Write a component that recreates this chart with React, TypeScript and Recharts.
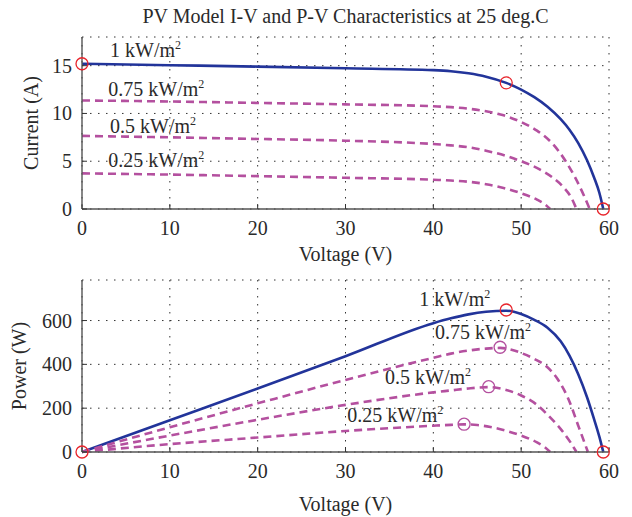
import React from "react";
import { ComposedChart, Line, Scatter, XAxis, YAxis, CartesianGrid } from "recharts";

// ── Data ─────────────────────────────────────────────────────────────────

const voltTicks = [0, 10, 20, 30, 40, 50, 60];
const currentTicks = [0, 5, 10, 15];
const powerTicks = [0, 200, 400, 600];

// I-V curves, one per irradiance level
const iv100 = [
  { v: 0, i: 15.2 }, { v: 10, i: 15.05 }, { v: 20, i: 14.9 }, { v: 30, i: 14.73 }, { v: 40, i: 14.53 },
  { v: 42, i: 14.42 }, { v: 44, i: 14.2 }, { v: 46, i: 13.85 }, { v: 48.3, i: 13.2 }, { v: 50, i: 12.5 },
  { v: 51.5, i: 11.7 }, { v: 53, i: 10.7 }, { v: 54.5, i: 9.4 }, { v: 55.5, i: 8.3 }, { v: 56.5, i: 6.9 },
  { v: 57.5, i: 5.1 }, { v: 58.3, i: 3.3 }, { v: 58.9, i: 1.7 }, { v: 59.35, i: 0 },
];
const iv75 = [
  { v: 0, i: 11.36 }, { v: 10, i: 11.25 }, { v: 20, i: 11.1 }, { v: 30, i: 10.95 }, { v: 40, i: 10.75 },
  { v: 42, i: 10.66 }, { v: 44, i: 10.5 }, { v: 46, i: 10.22 }, { v: 48, i: 9.8 }, { v: 50, i: 9.1 },
  { v: 51.8, i: 8.2 }, { v: 53.5, i: 6.9 }, { v: 55, i: 5.1 }, { v: 56.2, i: 3.2 }, { v: 57.1, i: 1.5 },
  { v: 57.8, i: 0 },
];
const iv50 = [
  { v: 0, i: 7.65 }, { v: 10, i: 7.5 }, { v: 20, i: 7.33 }, { v: 30, i: 7.15 }, { v: 40, i: 6.8 },
  { v: 42, i: 6.66 }, { v: 44.2, i: 6.43 }, { v: 46, i: 6.1 }, { v: 48.3, i: 5.55 }, { v: 50, i: 5.0 },
  { v: 52, i: 4.2 }, { v: 53.5, i: 3.35 }, { v: 54.8, i: 2.3 }, { v: 55.7, i: 1.2 }, { v: 56.3, i: 0 },
];
const iv25 = [
  { v: 0, i: 3.73 }, { v: 10, i: 3.6 }, { v: 20, i: 3.44 }, { v: 30, i: 3.27 }, { v: 40, i: 3.06 },
  { v: 42, i: 2.98 }, { v: 44, i: 2.85 }, { v: 46, i: 2.6 }, { v: 48, i: 2.2 }, { v: 50, i: 1.65 },
  { v: 51.8, i: 0.98 }, { v: 52.7, i: 0.5 }, { v: 53.3, i: 0 },
];

// P-V curves
const pv100 = [
  { v: 0, p: 0 }, { v: 10, p: 145 }, { v: 20, p: 290 }, { v: 30, p: 437 }, { v: 40, p: 588 },
  { v: 42, p: 610 }, { v: 44, p: 628 }, { v: 46, p: 640 }, { v: 48.3, p: 645 }, { v: 50, p: 630 },
  { v: 51.5, p: 603 }, { v: 53, p: 567 }, { v: 54.5, p: 505 }, { v: 55.5, p: 440 }, { v: 56.5, p: 355 },
  { v: 57.5, p: 250 }, { v: 58.3, p: 150 }, { v: 58.9, p: 70 }, { v: 59.35, p: 0 },
];
const pv75 = [
  { v: 0, p: 0 }, { v: 10, p: 113 }, { v: 20, p: 222 }, { v: 30, p: 329 }, { v: 40, p: 430 },
  { v: 42, p: 449 }, { v: 44, p: 463 }, { v: 46, p: 472 }, { v: 47.6, p: 475 }, { v: 49, p: 466 },
  { v: 50, p: 452 }, { v: 51.5, p: 425 }, { v: 52.9, p: 390 }, { v: 54.2, p: 330 }, { v: 55.4, p: 240 },
  { v: 56.5, p: 120 }, { v: 57.6, p: 0 },
];
const pv50 = [
  { v: 0, p: 0 }, { v: 10, p: 75 }, { v: 20, p: 147 }, { v: 30, p: 215 }, { v: 40, p: 272 },
  { v: 42, p: 281 }, { v: 44, p: 290 }, { v: 46.3, p: 296 }, { v: 48.3, p: 283 }, { v: 50, p: 258 },
  { v: 51.8, p: 215 }, { v: 53.3, p: 158 }, { v: 54.6, p: 100 }, { v: 55.6, p: 45 }, { v: 56.3, p: 0 },
];
const pv25 = [
  { v: 0, p: 0 }, { v: 10, p: 36 }, { v: 20, p: 66 }, { v: 30, p: 96 }, { v: 40, p: 120 },
  { v: 42, p: 124 }, { v: 43.5, p: 126 }, { v: 45, p: 123 }, { v: 46.5, p: 114 }, { v: 48.35, p: 96 },
  { v: 50, p: 75 }, { v: 51.8, p: 44 }, { v: 52.7, p: 22 }, { v: 53.3, p: 0 },
];

// circle markers (Isc, MPP, Voc)
const ivRedMarks = [{ v: 0, i: 15.2 }, { v: 48.3, i: 13.2 }, { v: 59.35, i: 0 }];
const pvRedMarks = [{ v: 0, p: 0 }, { v: 48.3, p: 648 }, { v: 59.35, p: 0 }];
const pvMppMarks = [{ v: 47.6, p: 478 }, { v: 46.3, p: 298 }, { v: 43.5, p: 127 }];

// irradiance annotations (text starts at v, baseline at y value)
const ivNotes = [
  { v: 3.2, i: 15.9, text: "1" },
  { v: 3.0, i: 11.8, text: "0.75" },
  { v: 3.2, i: 7.95, text: "0.5" },
  { v: 3.0, i: 4.4, text: "0.25" },
];
const pvNotes = [
  { v: 38.4, p: 666, text: "1" },
  { v: 40.2, p: 515, text: "0.75" },
  { v: 34.5, p: 310, text: "0.5" },
  { v: 30.2, p: 136, text: "0.25" },
];

// ── Style ───────────────────────────────────────────────────────────────

const SERIF = "Liberation Serif";
const FS = 20;
const BLUE = "#22349a";
const MAGENTA = "#b4509f";
const RED = "#e8242b";
const FRAME = "#555";
const INK = "#2a2a2a";

const ring = (color: string) => (p: any) =>
  <circle cx={p.cx} cy={p.cy} r={6} fill="none" stroke={color} strokeWidth={1.3} />;

const Note = (p: any) => (
  <text x={p.cx} y={p.cy} fill={INK} fontSize={FS} fontFamily={SERIF}>
    {p.payload.text} kW/m<tspan dy={-8} fontSize={12}>2</tspan>
  </text>
);

const XTick = (p: any) => (
  <text x={p.x} y={p.y} dy="0.71em" textAnchor="middle" fill={INK} fontSize={FS} fontFamily={SERIF}>
    {p.payload.value}
  </text>
);
const YTick = (p: any) => (
  <text x={p.x} y={p.y} dy="0.35em" textAnchor="end" fill={INK} fontSize={FS} fontFamily={SERIF}>
    {p.payload.value}
  </text>
);

// axis titles, placed from the axis viewBox
const XTitle = (offset: number) => (p: any) => {
  const vb = p.viewBox;
  return (
    <text x={vb.x + vb.width / 2} y={vb.y + vb.height - offset} textAnchor="middle"
      fill={INK} fontSize={FS} fontFamily={SERIF}>Voltage (V)</text>
  );
};
const YTitle = (text: string, offset: number) => (p: any) => {
  const vb = p.viewBox;
  const x = vb.x + offset;
  const y = vb.y + vb.height / 2;
  return (
    <text x={x} y={y} dy="0.35em" textAnchor="middle" transform={`rotate(-90 ${x} ${y})`}
      fill={INK} fontSize={FS} fontFamily={SERIF}>{text}</text>
  );
};

function Panel(props: {
  height: number; top: number; yKey: string; yDomain: number[]; yTicks: number[];
  yLabel: string; yLabelX: number; bottomH: number; xLabelOffset: number;
  curves: { data: any[]; solid: boolean }[]; marks: { data: any[]; color: string }[]; notes: any[];
}) {
  const { height, top, yKey, yDomain, yTicks, yLabel, yLabelX, bottomH, xLabelOffset, curves, marks, notes } = props;
  return (
    <ComposedChart width={632} height={height} margin={{ top, right: 23, bottom: 0, left: 0 }}>
      <CartesianGrid stroke="#333" strokeDasharray="1.5 6.5" strokeWidth={1} />
      <XAxis type="number" dataKey="v" domain={[0, 60]} ticks={voltTicks}
        height={bottomH} tick={<XTick />} tickSize={-5} tickMargin={17}
        axisLine={{ stroke: FRAME, strokeWidth: 1.4 }} tickLine={{ stroke: "#333" }}
        label={{ content: XTitle(xLabelOffset) }} />
      <XAxis xAxisId="t" orientation="top" type="number" domain={[0, 60]} ticks={voltTicks}
        height={0} tickFormatter={() => ""} tickSize={-5}
        axisLine={{ stroke: FRAME, strokeWidth: 1.4 }} tickLine={{ stroke: "#333" }} />
      <YAxis type="number" dataKey={yKey} domain={yDomain} ticks={yTicks}
        width={82} tick={<YTick />} tickSize={-5} tickMargin={15}
        axisLine={{ stroke: FRAME, strokeWidth: 1.4 }} tickLine={{ stroke: "#333" }}
        label={{ content: YTitle(yLabel, yLabelX) }} />
      <YAxis yAxisId="r" orientation="right" type="number" domain={yDomain} ticks={yTicks}
        width={0} tickFormatter={() => ""} tickSize={-5}
        axisLine={{ stroke: FRAME, strokeWidth: 1.4 }} tickLine={{ stroke: "#333" }} />

      {curves.map((c, k) => (
        <Line key={k} data={c.data} dataKey={yKey} type="monotone"
          stroke={c.solid ? BLUE : MAGENTA} strokeWidth={2.6}
          strokeDasharray={c.solid ? undefined : "8 5"}
          dot={false} activeDot={false} isAnimationActive={false} />
      ))}
      {marks.map((m, k) => (
        <Scatter key={k} data={m.data} shape={ring(m.color)} isAnimationActive={false} />
      ))}
      <Scatter data={notes} shape={Note} isAnimationActive={false} />
    </ComposedChart>
  );
}

export default function App() {
  return (
    <div style={{ position: "absolute", left: 0, top: 0, width: 632, height: 517, background: "#fff", fontFamily: SERIF }}>
      <div style={{ position: "absolute", left: 82, top: 4, width: 527, textAlign: "center",
        fontSize: FS, lineHeight: "24px", color: INK }}>
        PV Model I-V and P-V Characteristics at 25 deg.C
      </div>
      <div style={{ position: "absolute", left: 0, top: 0 }}>
        <Panel height={270} top={37} yKey="i" yDomain={[0, 18]} yTicks={currentTicks}
          yLabel="Current (A)" yLabelX={31} bottomH={61} xLabelOffset={9}
          curves={[{ data: iv100, solid: true }, { data: iv75, solid: false }, { data: iv50, solid: false }, { data: iv25, solid: false }]}
          marks={[{ data: ivRedMarks, color: RED }]} notes={ivNotes} />
      </div>
      <div style={{ position: "absolute", left: 0, top: 262 }}>
        <Panel height={255} top={18} yKey="p" yDomain={[0, 785]} yTicks={powerTicks}
          yLabel="Power (W)" yLabelX={19} bottomH={65} xLabelOffset={6}
          curves={[{ data: pv100, solid: true }, { data: pv75, solid: false }, { data: pv50, solid: false }, { data: pv25, solid: false }]}
          marks={[{ data: pvRedMarks, color: RED }, { data: pvMppMarks, color: MAGENTA }]} notes={pvNotes} />
      </div>
    </div>
  );
}
